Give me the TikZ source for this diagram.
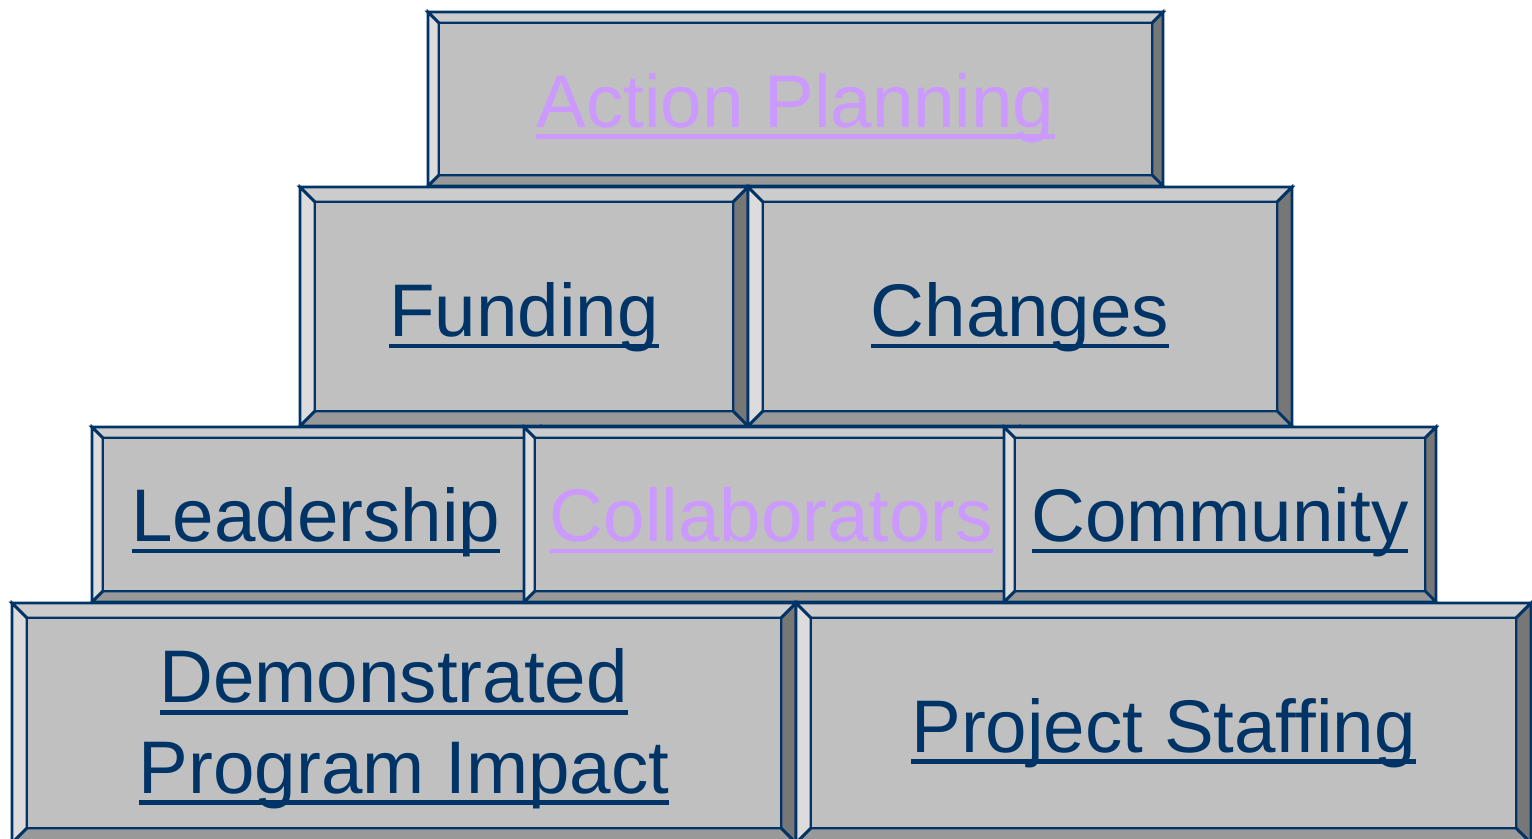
\documentclass[tikz,border=0pt]{standalone}
\usepackage{fontspec}
\setmainfont{Liberation Sans}
\usepackage{xcolor}
\usetikzlibrary{positioning,calc}
\definecolor{linkblue}{RGB}{0,51,102}
\definecolor{visited}{RGB}{204,153,255}
\definecolor{facegray}{RGB}{192,192,192}
\definecolor{toplight}{RGB}{204,204,204}
\definecolor{leftlight}{RGB}{220,220,220}
\definecolor{rightdark}{RGB}{119,119,119}
\definecolor{bottomdark}{RGB}{153,153,153}
\newcommand{\linkul}[1]{\setbox0\hbox{#1}\rlap{\rule[-3.4pt]{\wd0}{1.4pt}}\box0}
%% name, x1, y1, x2, y2, bevel, text colour, text, baseline offset
\newcommand{\bevelbox}[9]{
  \filldraw[bevel,fill=toplight] (#2,#3) -- (#4,#3) -- ({#4-#6},{#3+#6}) -- ({#2+#6},{#3+#6}) -- cycle;
  \filldraw[bevel,fill=leftlight] (#2,#3) -- ({#2+#6},{#3+#6}) -- ({#2+#6},{#5-#6}) -- (#2,#5) -- cycle;
  \filldraw[bevel,fill=rightdark] (#4,#3) -- (#4,#5) -- ({#4-#6},{#5-#6}) -- ({#4-#6},{#3+#6}) -- cycle;
  \filldraw[bevel,fill=bottomdark] (#2,#5) -- (#4,#5) -- ({#4-#6},{#5-#6}) -- ({#2+#6},{#5-#6}) -- cycle;
  \filldraw[bevel,fill=facegray] ({#2+#6},{#3+#6}) rectangle ({#4-#6},{#5-#6});
  \coordinate (#1) at ({(#2+#4)/2},{(#3+#5)/2});
  \draw ($(#1)+(0,#9)$) node[linktext,text=#7] (#1text) {#8};
}
\tikzset{bevel/.style={draw=linkblue,line width=.8pt,line join=miter}}
\tikzset{linktext/.style={font=\fontsize{21.2}{25.6}\selectfont,anchor=base,inner sep=0pt}}
\tikzset{y=-0.01cm}
\tikzset{x=0.01cm}

\begin{document}
\begin{tikzpicture}
  \useasboundingbox (0,0) rectangle (1532,838);
  \clip (0,0) rectangle (1532,838);

  %% Top
  \bevelbox{planning}{428}{12}{1163}{186}{11}{visited}{\linkul{Action Planning}}{28}

  %% Second row
  \bevelbox{funding}{300}{187}{748}{426}{15}{linkblue}{\linkul{Funding}}{30}
  \bevelbox{changes}{748}{187}{1292}{426}{15}{linkblue}{\linkul{Changes}}{30}

  %% Third row
  \bevelbox{leadership}{92}{427}{540}{602}{11}{linkblue}{\linkul{Leadership}}{27}
  \bevelbox{collaborators}{524}{427}{1019}{602}{11}{visited}{\linkul{Collaborators}}{27}
  \bevelbox{community}{1004}{427}{1436}{602}{11}{linkblue}{\linkul{Community}}{27}

  %% Bottom
  \bevelbox{impact}{12}{603}{796}{843}{15}{linkblue}{\begin{tabular}[b]{@{}c@{}}\linkul{Demonstrated}\hspace{0.278em}\mbox{}\\\linkul{Program Impact}\end{tabular}}{70}
  \bevelbox{staffing}{796}{603}{1531}{843}{15}{linkblue}{\linkul{Project Staffing}}{29}
\end{tikzpicture}
\end{document}
